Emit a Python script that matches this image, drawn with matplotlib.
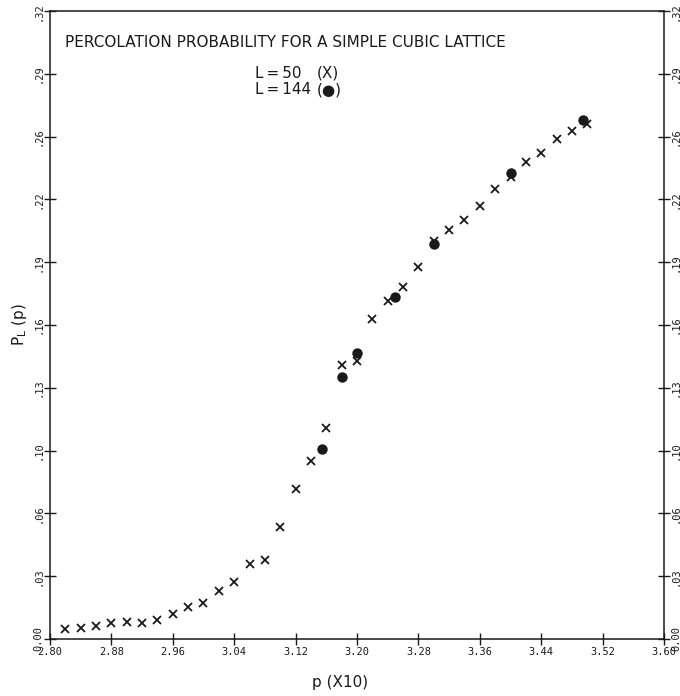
import matplotlib
matplotlib.use("Agg")
import matplotlib.pyplot as plt

# Percolation probability P_L(p) for a simple cubic lattice (p scaled by 10)
p_L50 = [2.82, 2.84, 2.86, 2.88, 2.90, 2.92, 2.94, 2.96, 2.98, 3.00,
         3.02, 3.04, 3.06, 3.08, 3.10, 3.12, 3.14, 3.16, 3.18, 3.20,
         3.22, 3.24, 3.26, 3.28, 3.30, 3.32, 3.34, 3.36, 3.38, 3.40,
         3.42, 3.44, 3.46, 3.48, 3.50]
P_L50 = [0.0049, 0.0058, 0.0065, 0.0081, 0.0086, 0.0083, 0.0097, 0.0125, 0.0163, 0.0185,
         0.0243, 0.0288, 0.0381, 0.0400, 0.0571, 0.0765, 0.0907, 0.1075, 0.1397, 0.1418,
         0.1630, 0.1720, 0.1796, 0.1897, 0.2029, 0.2084, 0.2136, 0.2207, 0.2294, 0.2355,
         0.2431, 0.2479, 0.2550, 0.2590, 0.2623]

p_L144 = [3.155, 3.18, 3.20, 3.25, 3.30, 3.40, 3.495]
P_L144 = [0.0968, 0.1333, 0.1455, 0.1743, 0.2013, 0.2377, 0.2643]

x_ticks = [2.80, 2.88, 2.96, 3.04, 3.12, 3.20, 3.28, 3.36, 3.44, 3.52, 3.60]
x_tick_labels = ["2.80", "2.88", "2.96", "3.04", "3.12", "3.20", "3.28", "3.36", "3.44", "3.52", "3.60"]
y_ticks = [0.000, 0.032, 0.064, 0.096, 0.128, 0.160, 0.192, 0.224, 0.256, 0.288, 0.320]
y_tick_labels = ["0.00", ".03", ".06", ".10", ".13", ".16", ".19", ".22", ".26", ".29", ".32"]

title_text = "PERCOLATION PROBABILITY FOR A SIMPLE CUBIC LATTICE"
legend_sizes = ["L\u2009=\u200950", "L\u2009=\u2009144"]
legend_marks = ["(X)", "(\u25CF)"]

ink = "#1a1a1a"
fig = plt.figure(figsize=(6.8, 6.96), dpi=100)
ax = fig.add_axes([0.0735, 0.082, 0.903, 0.902])

ax.plot(p_L50, P_L50, linestyle="none", marker="x", markersize=5.5,
        markeredgewidth=1.3, color=ink)
ax.plot(p_L144, P_L144, linestyle="none", marker="o", markersize=7.5,
        color=ink, markeredgewidth=0)

ax.set_xlim(2.80, 3.60)
ax.set_ylim(0.0, 0.32)

ax.set_xticks(x_ticks)
ax.set_xticklabels(x_tick_labels, family="DejaVu Sans Mono", fontsize=7.5)
ax.set_yticks(y_ticks)
ax.set_yticklabels(y_tick_labels, family="DejaVu Sans Mono", fontsize=7.5,
                   rotation=90, va="center")

ax.tick_params(axis="x", direction="inout", length=8, width=1, colors=ink,
               top=False, pad=2)
ax.tick_params(axis="y", direction="inout", length=8, width=1, colors=ink,
               left=True, right=True, labelleft=True, labelright=True, pad=1)

for side in ["left", "right", "top", "bottom"]:
    ax.spines[side].set_color(ink)
    ax.spines[side].set_linewidth(1.1)

ax.text(0.0244, 0.950, title_text, transform=ax.transAxes, fontsize=11,
        color=ink, ha="left", va="center")
for row, (size_txt, mark_txt) in enumerate(zip(legend_sizes, legend_marks)):
    yy = 0.901 - row * 0.0265
    ax.text(0.334, yy, size_txt, transform=ax.transAxes, fontsize=11,
            color=ink, ha="left", va="center")
    ax.text(0.435, yy, mark_txt, transform=ax.transAxes, fontsize=11,
            color=ink, ha="left", va="center")

fig.text(0.029, 0.533, "P$_\\mathregular{L}$ (p)", rotation=90, fontsize=11,
         color=ink, ha="center", va="center")
fig.text(0.5, 0.02, "p (X10)", fontsize=11, color=ink, ha="center", va="center")

fig.savefig("out.png", dpi=100, facecolor="white")
